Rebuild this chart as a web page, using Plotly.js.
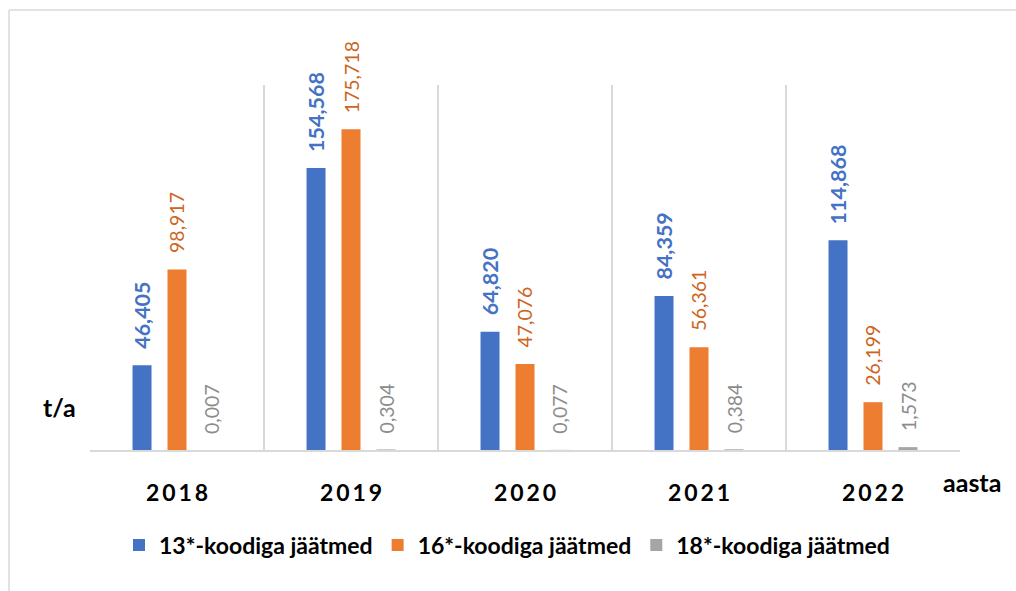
<!DOCTYPE html>
<html><head><meta charset="utf-8">
<script src="https://cdn.plot.ly/plotly-3.0.1.min.js"></script>
<style>html,body{margin:0;padding:0;background:#fff}#chart{width:1016px;height:591px}</style>
</head><body><div id="chart"></div>
<script>
// ---- data ----
const years = ['2018', '2019', '2020', '2021', '2022'];
const seriesNames = ['13*-koodiga jäätmed', '16*-koodiga jäätmed', '18*-koodiga jäätmed'];
const code13 = [46.405, 154.568, 64.820, 84.359, 114.868];
const code16 = [98.917, 175.718, 47.076, 56.361, 26.199];
const code18 = [0.007, 0.304, 0.077, 0.384, 1.573];
const yUnitLabel = 't/a';
const xUnitLabel = 'aasta';

// ---- style ----
const FONT = 'Lato, "Open Sans", sans-serif';
const barColors = ['#4472C4', '#ED7D31', '#A5A5A5'];
const labelColors = ['#4472C4', '#CD6420', '#8C8C8C'];
const labelWeights = ['bold', 'normal', 'normal'];
const labelSizes = [21.5, 19.5, 19.5];
const W = 1016, H = 591;
const M = {l: 90, r: 56, t: 85, b: 141};
const BARGAP = 0.397, BARGROUPGAP = 0.457;
const plotW = W - M.l - M.r, plotH = H - M.t - M.b;
const slot = plotW / years.length * (1 - BARGAP) / 3;

const seriesVals = [code13, code16, code18];
const fmt = v => v.toFixed(3).replace('.', ',');
const pxToPaperX = px => (px - M.l) / plotW;
const pxToPaperY = py => (H - M.b - py) / plotH;

const traces = seriesVals.map((vals, i) => ({
  type: 'bar', name: seriesNames[i], x: years, y: vals,
  marker: {color: barColors[i]}, hoverinfo: 'x+y+name'
}));

const annotations = [];
seriesVals.forEach((vals, i) => {
  vals.forEach((v, j) => {
    annotations.push({
      x: j, y: v, xref: 'x', yref: 'y', xshift: (i - 1) * slot, yshift: 14,
      xanchor: 'center', yanchor: 'bottom', textangle: -90, showarrow: false,
      text: fmt(v),
      font: {family: FONT, size: labelSizes[i], color: labelColors[i], weight: labelWeights[i]}
    });
  });
});
annotations.push({
  xref: 'paper', yref: 'paper', x: pxToPaperX(59), y: pxToPaperY(407),
  xanchor: 'center', yanchor: 'middle', showarrow: false, text: yUnitLabel,
  font: {family: FONT, size: 25, color: '#000', weight: 'bold'}
});
annotations.push({
  xref: 'paper', yref: 'paper', x: pxToPaperX(972), y: pxToPaperY(482),
  xanchor: 'center', yanchor: 'middle', showarrow: false, text: xUnitLabel,
  font: {family: FONT, size: 25, color: '#000', weight: 'bold'}
});

const frameX = pxToPaperX(9), frameY = pxToPaperY(10);
const shapes = [
  {type: 'line', xref: 'paper', yref: 'paper', x0: frameX, x1: frameX, y0: -1, y1: frameY,
   line: {color: '#D9D9D9', width: 1.5}},
  {type: 'line', xref: 'paper', yref: 'paper', x0: frameX, x1: 1.5, y0: frameY, y1: frameY,
   line: {color: '#D9D9D9', width: 1.5}}
];

const layout = {
  width: W, height: H, margin: M,
  paper_bgcolor: '#fff', plot_bgcolor: '#fff',
  barmode: 'group', bargap: BARGAP, bargroupgap: BARGROUPGAP,
  font: {family: FONT},
  xaxis: {
    type: 'category', range: [-0.5, years.length - 0.5], tickson: 'boundaries',
    showgrid: true, gridcolor: '#D9D9D9', gridwidth: 1.5,
    showline: true, linecolor: '#D9D9D9', linewidth: 1.5, ticks: '',
    tickmode: 'array', tickvals: years, ticktext: years.map(y => y.split('').join('\u2009')),
    ticklabelstandoff: 22,
    tickfont: {family: FONT, size: 23, color: '#000', weight: 'bold'}
  },
  yaxis: {range: [0, 200], showgrid: false, zeroline: false, showticklabels: false, ticks: ''},
  showlegend: true,
  legend: {orientation: 'h', x: 0.5 - 18 / plotW, xanchor: 'center', y: pxToPaperY(545), yanchor: 'middle',
    font: {family: FONT, size: 23, color: '#000', weight: 'bold'}},
  annotations: annotations, shapes: shapes
};

Plotly.newPlot('chart', traces, layout, {displayModeBar: false, staticPlot: true});
</script></body></html>
